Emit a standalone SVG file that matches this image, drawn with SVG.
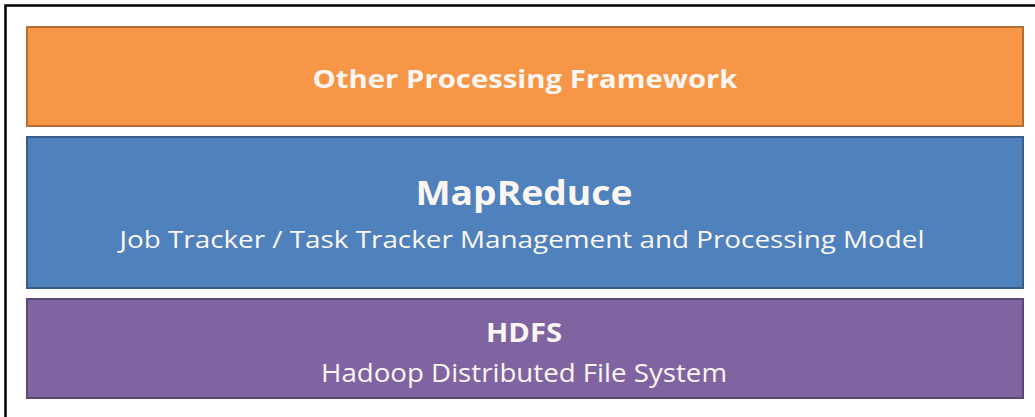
<svg xmlns="http://www.w3.org/2000/svg" width="1035" height="417" viewBox="0 0 1035 417">
<style>
.t{font-family:"Open Sans","Liberation Sans",sans-serif;fill:#fbf6f2;text-anchor:middle}
.b{font-weight:bold}
.box{stroke-width:2}
</style>
<rect x="0" y="0" width="1035" height="417" fill="#ffffff"/>
<path d="M5.5,417 V5.5 H1035" fill="none" stroke="#000000" stroke-width="2.5"/>
<g id="other">
<rect class="box" x="27" y="27" width="996" height="99" fill="#f79646" stroke="#b66d31"/>
<text class="t b" x="525" y="88" font-size="25" textLength="425" lengthAdjust="spacingAndGlyphs">Other Processing Framework</text>
</g>
<g id="mapreduce">
<rect class="box" x="27" y="137" width="996" height="151" fill="#4f81bd" stroke="#385d8a"/>
<text class="t b" x="524" y="205" font-size="34" textLength="217" lengthAdjust="spacingAndGlyphs">MapReduce</text>
<text class="t" x="522" y="248" font-size="24" textLength="805" lengthAdjust="spacingAndGlyphs">Job Tracker / Task Tracker Management and Processing Model</text>
</g>
<g id="hdfs">
<rect class="box" x="27" y="299" width="996" height="99" fill="#8064a2" stroke="#5c4776"/>
<text class="t b" x="524" y="342" font-size="27" textLength="76" lengthAdjust="spacingAndGlyphs">HDFS</text>
<text class="t" x="524" y="382" font-size="25" textLength="406" lengthAdjust="spacingAndGlyphs">Hadoop Distributed File System</text>
</g>
<g id="connectors"></g>
</svg>
